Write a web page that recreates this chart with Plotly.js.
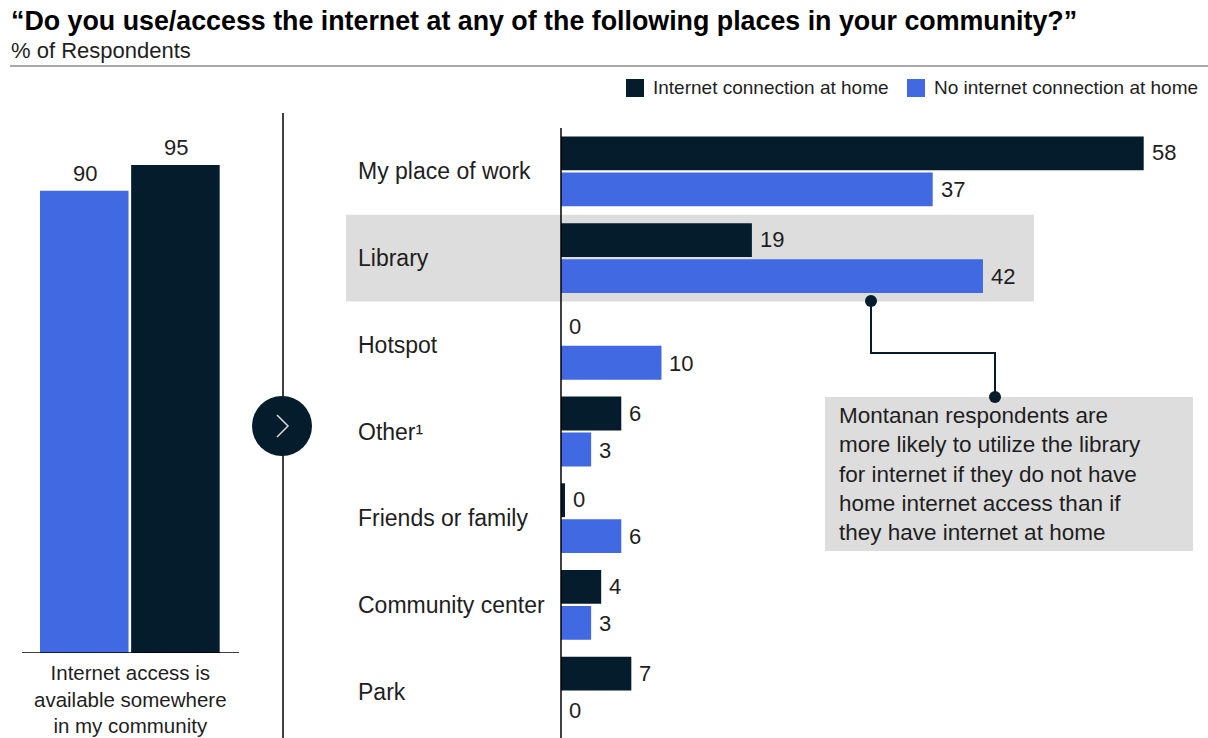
<!DOCTYPE html>
<html>
<head>
<meta charset="utf-8">
<script src="https://cdn.plot.ly/plotly-3.0.1.min.js"></script>
<style>
  html, body { margin: 0; padding: 0; background: #ffffff; }
  #chart { width: 1208px; height: 738px; }
</style>
</head>
<body>
<div id="chart"></div>
<script>
// ---------- DATA ----------
const categories = ["My place of work", "Library", "Hotspot", "Other\u00B9", "Friends or family", "Community center", "Park"];
const withHomeInternet = [58, 19, 0, 6, 0.4, 4, 7];
const withoutHomeInternet = [37, 42, 10, 3, 6, 3, 0];

const seriesNames = ["Internet connection at home", "No internet connection at home"];

const overallCategory = ["Internet access is<br>available somewhere<br>in my community"];
const overallWithout = [90];
const overallWith = [95];

const titleText = "\u201CDo you use/access the internet at any of the following places in your community?\u201D";
const subtitleText = "% of Respondents";
const calloutText = "Montanan respondents are<br>more likely to utilize the library<br>for internet if they do not have<br>home internet access than if<br>they have internet at home";

// ---------- STYLE ----------
const W = 1208, H = 738;
const DARK = "#051c2c";
const BLUE = "#4169e1";
const TEXT = "#1e1e1e";
const FONT = "Liberation Sans, Arial, sans-serif";
const px = x => x / W;
const py = y => 1 - y / H;

const traces = [
  // right chart
  { type: "bar", orientation: "h", name: seriesNames[0], y: categories, x: withHomeInternet,
    xaxis: "x2", yaxis: "y2", marker: { color: DARK, line: { width: 0 } }, hoverinfo: "x+y" },
  { type: "bar", orientation: "h", name: seriesNames[1], y: categories, x: withoutHomeInternet,
    xaxis: "x2", yaxis: "y2", marker: { color: BLUE, line: { width: 0 } }, hoverinfo: "x+y" },
  // left chart
  { type: "bar", name: seriesNames[1], x: overallCategory, y: overallWithout,
    xaxis: "x", yaxis: "y", width: 0.408, offset: -0.417, marker: { color: BLUE, line: { width: 0 } } },
  { type: "bar", name: seriesNames[0], x: overallCategory, y: overallWith,
    xaxis: "x", yaxis: "y", width: 0.408, offset: 0.003, marker: { color: DARK, line: { width: 0 } } }
];

const annotations = [];
// title & subtitle
annotations.push({ xref: "paper", yref: "paper", x: px(9), y: py(21), xanchor: "left", yanchor: "middle",
  text: "<b>" + titleText + "</b>", showarrow: false, font: { family: FONT, size: 26.8, color: "#000" } });
annotations.push({ xref: "paper", yref: "paper", x: px(9), y: py(50), xanchor: "left", yanchor: "middle",
  text: subtitleText, showarrow: false, font: { family: FONT, size: 22, color: TEXT } });
// legend
annotations.push({ xref: "paper", yref: "paper", x: px(651), y: py(88), xanchor: "left", yanchor: "middle",
  text: seriesNames[0], showarrow: false, font: { family: FONT, size: 19, color: TEXT } });
annotations.push({ xref: "paper", yref: "paper", x: px(932), y: py(88), xanchor: "left", yanchor: "middle",
  text: seriesNames[1], showarrow: false, font: { family: FONT, size: 19, color: TEXT } });

// category labels
categories.forEach((c, i) => {
  annotations.push({ xref: "paper", yref: "y2", x: px(356), y: c, xanchor: "left", yanchor: "middle",
    text: c, showarrow: false, font: { family: FONT, size: 23, color: TEXT } });
});
// value labels right chart
categories.forEach((c, i) => {
  annotations.push({ xref: "x2", yref: "y2", x: withHomeInternet[i], y: c, xanchor: "left", yanchor: "middle",
    xshift: 6, yshift: 18.5, text: String(Math.round(withHomeInternet[i])), showarrow: false,
    font: { family: FONT, size: 22, color: TEXT } });
  annotations.push({ xref: "x2", yref: "y2", x: withoutHomeInternet[i], y: c, xanchor: "left", yanchor: "middle",
    xshift: 6, yshift: -18.5, text: String(Math.round(withoutHomeInternet[i])), showarrow: false,
    font: { family: FONT, size: 22, color: TEXT } });
});
// left chart value labels
annotations.push({ xref: "x", yref: "y", x: overallCategory[0], y: overallWithout[0], xanchor: "center", yanchor: "bottom",
  xshift: -46, yshift: 3, text: String(overallWithout[0]), showarrow: false, font: { family: FONT, size: 22, color: TEXT } });
annotations.push({ xref: "x", yref: "y", x: overallCategory[0], y: overallWith[0], xanchor: "center", yanchor: "bottom",
  xshift: 45, yshift: 3, text: String(overallWith[0]), showarrow: false, font: { family: FONT, size: 22, color: TEXT } });
// left category label
annotations.push({ xref: "x", yref: "paper", x: overallCategory[0], y: py(659), xanchor: "center", yanchor: "top",
  text: overallCategory[0], showarrow: false, align: "center", font: { family: FONT, size: 20.5, color: TEXT } });
// callout text
annotations.push({ xref: "paper", yref: "paper", x: px(837), y: py(474), xanchor: "left", yanchor: "middle",
  text: calloutText, showarrow: false, align: "left", font: { family: FONT, size: 22.5, color: TEXT } });

const shapes = [
  // rule under subtitle
  { type: "line", xref: "paper", yref: "paper", x0: px(10), x1: 1, y0: py(66), y1: py(66),
    line: { color: "#8c8c8c", width: 1.5 } },
  // legend squares
  { type: "rect", xref: "paper", yref: "paper", x0: px(626), x1: px(644), y0: py(79), y1: py(97),
    fillcolor: DARK, line: { width: 0 } },
  { type: "rect", xref: "paper", yref: "paper", x0: px(907), x1: px(925), y0: py(79), y1: py(97),
    fillcolor: BLUE, line: { width: 0 } },
  // library highlight band
  { type: "rect", xref: "paper", yref: "y2", x0: px(346), x1: px(1034), y0: 0.5, y1: 1.5,
    fillcolor: "#dddddd", line: { width: 0 }, layer: "below" },
  // callout box
  { type: "rect", xref: "paper", yref: "paper", x0: px(825), x1: px(1193), y0: py(397), y1: py(551),
    fillcolor: "#dddddd", line: { width: 0 }, layer: "below" },
  // connector
  { type: "path", xref: "paper", yref: "paper",
    path: "M " + px(871) + " " + py(301) + " L " + px(871) + " " + py(353) + " L " + px(995) + " " + py(353) + " L " + px(995) + " " + py(397),
    line: { color: DARK, width: 2 } },
  { type: "circle", xref: "paper", yref: "paper", x0: px(865), x1: px(877), y0: py(295), y1: py(307),
    fillcolor: DARK, line: { width: 0 } },
  { type: "circle", xref: "paper", yref: "paper", x0: px(989), x1: px(1001), y0: py(391), y1: py(403),
    fillcolor: DARK, line: { width: 0 } },
  // right axis line
  { type: "line", xref: "paper", yref: "paper", x0: px(561), x1: px(561), y0: py(128), y1: py(738),
    line: { color: "#000", width: 1.5 } },
  // left baseline
  { type: "line", xref: "paper", yref: "y", x0: px(22), x1: px(239), y0: 0, y1: 0,
    line: { color: "#000", width: 1.5 } },
  // separator
  { type: "line", xref: "paper", yref: "paper", x0: px(283), x1: px(283), y0: py(113), y1: py(738),
    line: { color: "#000", width: 1.5 } },
  // chevron circle
  { type: "circle", xref: "paper", yref: "paper", x0: px(252), x1: px(312), y0: py(396), y1: py(456),
    fillcolor: DARK, line: { width: 0 } },
  { type: "path", xref: "paper", yref: "paper",
    path: "M " + px(277) + " " + py(415) + " L " + px(288) + " " + py(426) + " L " + px(277) + " " + py(437),
    line: { color: "#d8d8d8", width: 1.5 } }
];

const layout = {
  width: W, height: H,
  margin: { l: 0, r: 0, t: 0, b: 0 },
  paper_bgcolor: "#ffffff", plot_bgcolor: "rgba(0,0,0,0)",
  showlegend: false,
  barmode: "group", bargap: 0.17, bargroupgap: 0.06,
  font: { family: FONT, color: TEXT },
  xaxis: { domain: [px(22), px(239)], type: "category", range: [-0.5, 0.5], visible: false, fixedrange: true, anchor: "y" },
  yaxis: { domain: [py(653), py(128)], range: [0, 102.2], visible: false, fixedrange: true, anchor: "x" },
  xaxis2: { domain: [px(561), 1], range: [0, 64.4], visible: false, fixedrange: true, anchor: "y2" },
  yaxis2: { domain: [py(735), py(128)], type: "category", range: [6.5, -0.5], visible: false, fixedrange: true, anchor: "x2" },
  annotations: annotations,
  shapes: shapes
};

Plotly.newPlot("chart", traces, layout, { displayModeBar: false, staticPlot: true });
</script>
</body>
</html>
